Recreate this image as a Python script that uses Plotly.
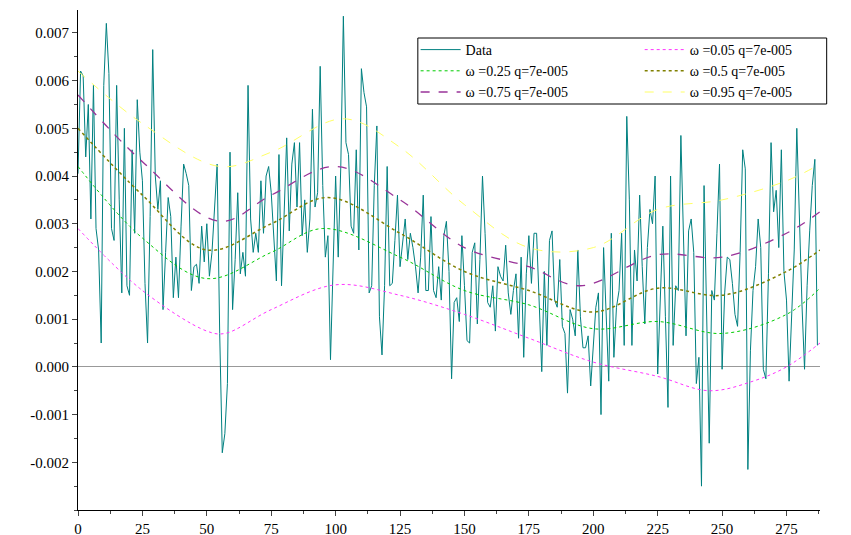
import plotly.graph_objects as go

# Data series (units of 1e-3), x = index
data_milli = [4.05,6.2,6.1,4.4,5.5,3.1,5.9,2.9,2.45,0.5,5.9,7.2,6.15,2.9,2.65,5.9,3.5,1.55,5.0,1.7,1.5,4.55,2.8,5.6,4.5,3.9,1.75,0.5,3.15,6.65,4.0,3.3,3.9,1.2,2.4,3.55,3.15,1.45,2.3,1.45,2.95,4.25,4.05,3.8,1.6,2.1,2.15,1.75,2.95,2.2,3.0,1.9,2.4,3.3,4.25,0.7,-1.8,-1.4,-0.35,4.5,1.2,2.25,3.65,1.95,2.4,1.9,5.9,3.1,2.4,2.8,2.4,3.9,2.8,4.0,
 4.2,3.65,2.65,1.8,4.45,1.7,3.2,4.8,2.85,4.25,4.7,3.35,4.7,2.75,3.5,2.4,3.1,5.4,3.35,3.65,6.3,3.8,2.3,2.75,0.15,1.95,4.0,2.3,4.2,7.35,4.7,4.45,2.95,2.8,4.55,2.45,6.25,5.75,5.45,1.55,1.7,3.8,5.05,1.05,0.25,1.7,4.2,1.7,1.75,2.65,3.6,2.1,2.6,3.1,2.25,2.8,2.5,2.1,1.55,2.3,3.6,1.6,1.6,3.15,1.6,1.45,2.1,1.4,2.75,3.05,2.0,-0.25,1.35,1.45,0.95,
 2.75,1.7,0.55,0.5,2.4,2.6,0.9,2.25,4.0,2.8,1.35,1.25,1.7,0.75,2.1,1.9,1.8,2.55,1.55,1.1,1.6,1.95,0.6,2.3,0.2,1.95,2.75,1.75,2.8,2.8,1.4,-0.1,2.0,0.45,2.65,2.85,1.4,1.25,2.25,0.85,0.7,-0.55,1.2,1.0,0.65,2.45,1.05,0.4,0.4,0.65,-0.4,0.55,1.25,1.55,-1.0,2.5,1.05,-0.3,2.8,0.2,1.25,1.6,2.8,0.45,5.25,3.5,0.45,2.45,1.8,3.6,2.1,0.9,
 2.5,3.3,3.0,4.0,-0.15,1.25,2.95,1.05,-0.85,4.0,0.45,1.7,1.6,4.85,2.5,0.65,2.85,3.1,2.4,-0.35,0.2,-2.5,3.8,0.85,-1.6,1.6,1.4,2.8,4.25,-0.05,1.55,2.3,2.25,1.75,1.1,0.85,2.4,4.55,4.15,-2.15,0.35,1.6,2.1,3.1,2.5,-0.05,-0.25,1.95,4.7,3.25,3.7,2.5,4.55,2.0,1.4,-0.3,1.3,2.45,5.0,3.0,1.3,-0.05,1.7,2.85,3.8,4.35,0.45]

# Smooth model curves: (x, value in 1e-3)
w005_x = [0,25,50,57,75,100,125,150,175,200,225,245,262,275,288]
w005_y = [2.9,1.6,0.75,0.7,1.2,1.72,1.5,1.1,0.6,0.1,-0.2,-0.5,-0.3,0.0,0.5]
w025_x = [0,25,50,75,95,125,150,175,200,225,250,275,288]
w025_y = [4.2,2.7,1.85,2.4,2.9,2.3,1.6,1.3,0.8,0.95,0.7,1.1,1.65]
w05_x = [0,25,50,75,97,125,150,175,200,225,250,275,288]
w05_y = [5.0,3.6,2.45,3.0,3.55,2.8,2.0,1.6,1.15,1.65,1.5,2.0,2.45]
w075_x = [0,25,55,75,100,125,150,175,195,225,250,275,288]
w075_y = [5.7,4.3,3.05,3.6,4.2,3.5,2.5,2.1,1.7,2.35,2.3,2.8,3.25]
w095_x = [0,25,55,75,103,125,150,175,200,225,250,275,288]
w095_y = [6.2,5.1,4.2,4.5,5.2,4.6,3.4,2.5,2.5,3.3,3.5,3.9,4.25]

x_ticks = [0,25,50,75,100,125,150,175,200,225,250,275]
y_ticks = [-0.002,-0.001,0,0.001,0.002,0.003,0.004,0.005,0.006,0.007]
y_labels = ["-0.002","-0.001","0.000","0.001","0.002","0.003","0.004","0.005","0.006","0.007"]

S = 1e-3
FONT = "Liberation Serif, Times New Roman, serif"
fig = go.Figure()
fig.add_trace(go.Scatter(x=list(range(len(data_milli))), y=[v*S for v in data_milli],
                         mode="lines", name="Data", legend="legend",
                         line=dict(color="#008080", width=1)))
curves = [("ω =0.05 q=7e-005", w005_x, w005_y, "#ff33ff", "dot", 1, "legend2"),
          ("ω =0.25 q=7e-005", w025_x, w025_y, "#00cc00", "dot", 1, "legend"),
          ("ω =0.5 q=7e-005", w05_x, w05_y, "#808000", "dot", 1.5, "legend2"),
          ("ω =0.75 q=7e-005", w075_x, w075_y, "#993399", "dash", 1.3, "legend"),
          ("ω =0.95 q=7e-005", w095_x, w095_y, "#ffff66", "dash", 1, "legend2")]
for name, xs, ys, c, d, w, lg in curves:
    fig.add_trace(go.Scatter(x=xs, y=[v*S for v in ys], mode="lines", name=name, legend=lg,
                             line=dict(color=c, dash=d, width=w, shape="spline", smoothing=1.0)))

leg_common = dict(xanchor="left", yanchor="top", bgcolor="rgba(0,0,0,0)",
                  font=dict(family=FONT, size=14), tracegroupgap=0, itemwidth=40)
fig.update_layout(
    width=835, height=527, margin=dict(l=70, r=23, t=2, b=25),
    plot_bgcolor="white", paper_bgcolor="white",
    font=dict(family=FONT, size=15, color="black"),
    legend=dict(x=0.455, y=0.952, **leg_common),
    legend2=dict(x=0.757, y=0.952, **leg_common),
    showlegend=True,
    shapes=[dict(type="rect", xref="paper", yref="paper", x0=0.458, x1=1.009,
                 y0=0.812, y1=0.944, line=dict(color="black", width=1),
                 fillcolor="white", layer="above")],
)
fig.update_xaxes(range=[0, 288], tickvals=x_ticks, showgrid=False, zeroline=False,
                 showline=True, linecolor="black", ticks="outside", ticklen=5,
                 automargin=False, tickfont=dict(family=FONT, size=15),
                 minor=dict(ticks="outside", ticklen=3, dtick=12.5))
fig.update_yaxes(range=[-0.0030, 0.00748], tickvals=y_ticks, ticktext=y_labels,
                 showgrid=False, zeroline=True, zerolinecolor="#999999", zerolinewidth=1,
                 showline=True, linecolor="black", ticks="outside", ticklen=5,
                 automargin=False, tickfont=dict(family=FONT, size=15),
                 minor=dict(ticks="outside", ticklen=3, dtick=0.0005))
fig.write_html("out.html")
